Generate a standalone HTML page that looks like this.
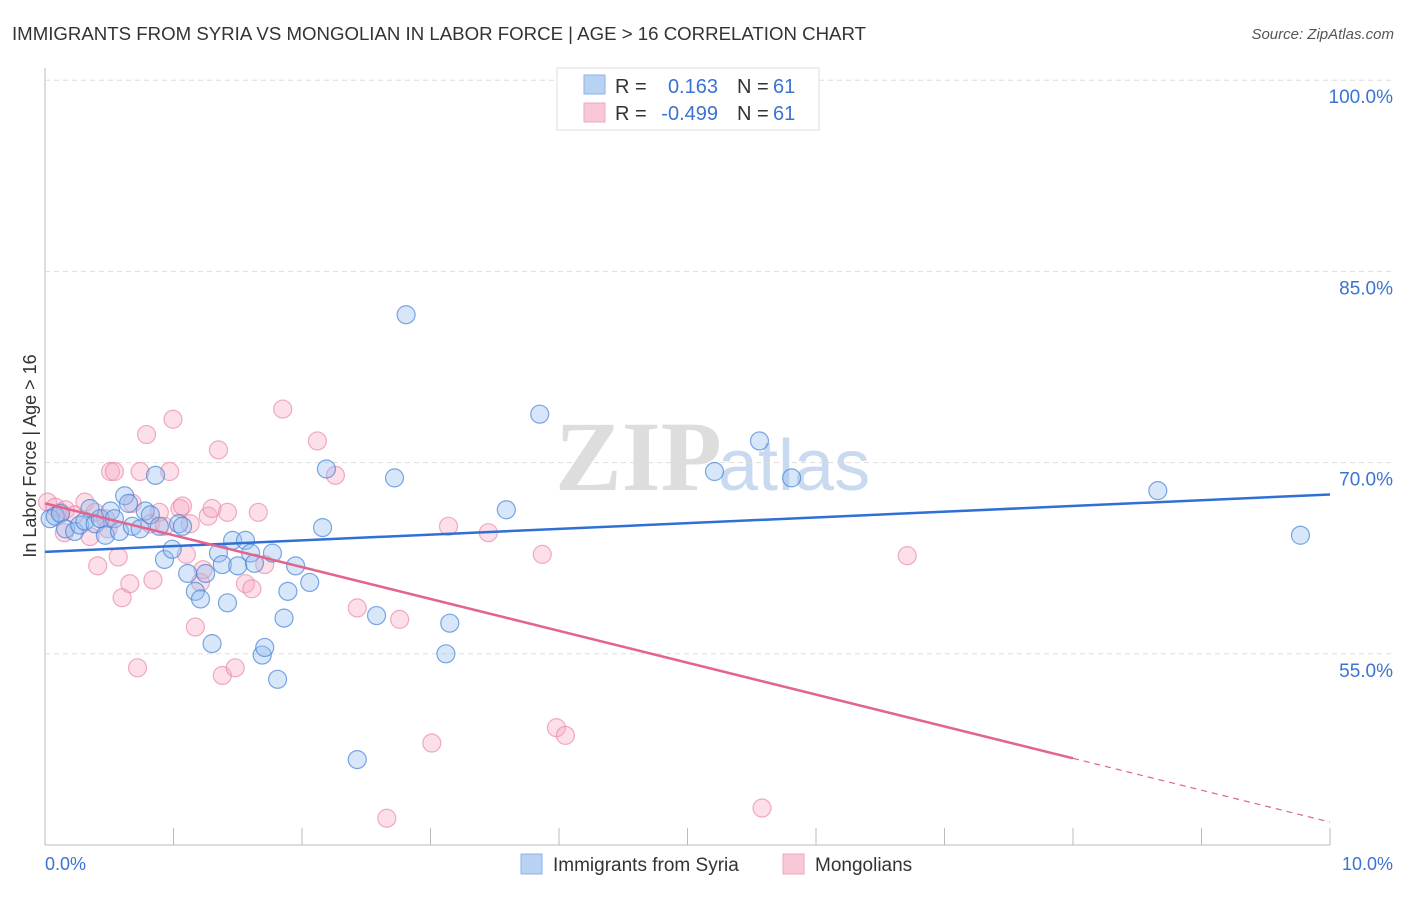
<!DOCTYPE html>
<html><head><meta charset="utf-8"><style>
body{margin:0;background:#fff;font-family:"Liberation Sans",sans-serif;}
svg text{font-family:"Liberation Sans",sans-serif;}
</style></head><body>
<svg id="c" width="1406" height="892" xmlns="http://www.w3.org/2000/svg">
<text x="12" y="40" font-size="18" fill="#333" textLength="854" lengthAdjust="spacingAndGlyphs">IMMIGRANTS FROM SYRIA VS MONGOLIAN IN LABOR FORCE | AGE &gt; 16 CORRELATION CHART</text>
<text x="1394" y="39" font-size="15" fill="#555" font-style="italic" text-anchor="end">Source: ZipAtlas.com</text>
<text x="36" y="456" font-size="18" fill="#333" text-anchor="middle" transform="rotate(-90 36 456)">In Labor Force | Age &gt; 16</text>
<text x="555" y="490" font-size="100" fill="#ddd" style="font-family:'Liberation Serif',serif;font-weight:bold">ZIP</text>
<text x="718" y="490" font-size="72" fill="#c9daf0">atlas</text>
<g id="grid"></g><g id="pts"></g><g id="lines"></g>
<g>
<rect x="557" y="68" width="262" height="62" fill="#fff" stroke="#ddd"/>
<rect x="584" y="75" width="21" height="19" fill="#b8d2f4" stroke="#8fb3e6"/>
<rect x="584" y="103" width="21" height="19" fill="#f9c8d6" stroke="#eda8bd"/>
<text x="615" y="93" font-size="20" fill="#333">R =</text><text x="718" y="93" font-size="20" fill="#3b73d1" text-anchor="end">0.163</text>
<text x="737" y="93" font-size="20" fill="#333">N =</text><text x="773" y="93" font-size="20" fill="#3b73d1">61</text>
<text x="615" y="120" font-size="20" fill="#333">R =</text><text x="718" y="120" font-size="20" fill="#3b73d1" text-anchor="end">-0.499</text>
<text x="737" y="120" font-size="20" fill="#333">N =</text><text x="773" y="120" font-size="20" fill="#3b73d1">61</text>
</g>
<g>
<rect x="521" y="854" width="21" height="20" fill="#b8d2f4" stroke="#8fb3e6"/>
<text x="553" y="871" font-size="19" fill="#333">Immigrants from Syria</text>
<rect x="783" y="854" width="21" height="20" fill="#f9c8d6" stroke="#eda8bd"/>
<text x="815" y="871" font-size="19" fill="#333">Mongolians</text>
</g>
<text x="45" y="870" font-size="18" fill="#3b73d1">0.0%</text>
<text x="1393" y="870" font-size="18" fill="#3b73d1" text-anchor="end">10.0%</text>
</svg>
<script>
const yTicks=[100,85,70,55];
const blueX=[0.04,0.08,0.12,0.16,0.23,0.27,0.31,0.35,0.39,0.43,0.47,0.51,0.54,0.58,0.62,0.65,0.68,0.74,0.78,0.82,0.86,0.89,0.93,0.99,1.04,1.07,1.11,1.17,1.21,1.25,1.3,1.35,1.38,1.42,1.46,1.5,1.56,1.6,1.63,1.69,1.71,1.77,1.81,1.86,1.89,1.95,2.06,2.16,2.19,2.58,2.72,2.81,3.12,3.15,2.43,3.59,3.85,5.21,5.56,5.81,8.66,9.77];
const blueY=[65.6,65.8,66.0,64.8,64.6,65.1,65.4,66.4,65.2,65.6,64.3,66.2,65.6,64.6,67.4,66.8,65.0,64.8,66.2,65.9,69.0,65.0,62.4,63.2,65.2,65.0,61.3,59.9,59.3,61.3,55.8,62.9,62.0,59.0,63.9,61.9,63.9,62.9,62.1,54.9,55.5,62.9,53.0,57.8,59.9,61.9,60.6,64.9,69.5,58.0,68.8,81.6,55.0,57.4,46.7,66.3,73.8,69.3,71.7,68.8,67.8,64.3];
const pinkX=[0.02,0.08,0.12,0.16,0.23,0.31,0.35,0.39,0.41,0.47,0.51,0.54,0.57,0.6,0.66,0.68,0.72,0.74,0.79,0.82,0.84,0.89,0.93,0.97,0.996,1.05,1.07,1.1,1.13,1.17,1.21,1.23,1.27,1.3,1.35,1.38,1.42,1.48,1.56,1.61,1.66,1.71,1.85,2.12,2.26,2.43,2.66,2.76,3.01,3.14,3.45,3.87,3.98,4.05,5.58,6.71,0.15,0.49];
const pinkY=[66.9,66.5,66.1,66.3,65.9,66.9,64.2,66.1,61.9,65.6,69.3,69.3,62.6,59.4,60.5,66.8,53.9,69.3,72.2,65.2,60.8,66.1,65.0,69.3,73.4,66.4,66.6,62.8,65.2,57.1,60.6,61.6,65.8,66.4,71.0,53.3,66.1,53.9,60.5,60.1,66.1,62.0,74.2,71.7,69.0,58.6,42.1,57.7,48.0,65.0,64.5,62.8,49.2,48.6,42.9,62.7,64.5,64.8];
const blueLine=[63.0,67.5];
const pinkLine=[66.8,41.8];
const solidEnd=8.0;
const X=v=>45+v/10*1285, Y=v=>845-(v-40)/15*191.2;
const NS='http://www.w3.org/2000/svg';
function mk(t,a,p){const e=document.createElementNS(NS,t);for(const k in a)e.setAttribute(k,a[k]);document.getElementById(p).appendChild(e);return e;}
mk('line',{x1:45,y1:68,x2:45,y2:845,stroke:'#bbb'},'grid');
mk('line',{x1:45,y1:845,x2:1330,y2:845,stroke:'#bbb'},'grid');
for(let i=1;i<=10;i++){const l=mk('line',{x1:X(i),y1:828,x2:X(i),y2:845,stroke:'#bbb'},'grid');

}
yTicks.forEach(t=>{const g=mk('line',{x1:45,y1:Y(t),x2:1392,y2:Y(t),stroke:'#ddd','stroke-dasharray':'5,4'},'grid');


const tx=mk('text',{x:1393,y:Y(t)+23,'font-size':19,fill:'#3b73d1','text-anchor':'end'},'grid');tx.textContent=t.toFixed(1)+'%';

});
pinkX.forEach((v,i)=>{const c=mk('circle',{cx:X(v),cy:Y(pinkY[i]),r:9,fill:'rgba(246,170,195,0.38)',stroke:'rgba(232,130,165,0.65)','stroke-width':1.2},'pts');

});
blueX.forEach((v,i)=>{const c=mk('circle',{cx:X(v),cy:Y(blueY[i]),r:9,fill:'rgba(150,190,240,0.38)',stroke:'rgba(70,130,215,0.7)','stroke-width':1.2},'pts');

});
const bl=mk('line',{x1:X(0),y1:Y(blueLine[0]),x2:X(10),y2:Y(blueLine[1]),stroke:'#2f6fd6','stroke-width':2.5},'lines');


const pv=x=>pinkLine[0]+(pinkLine[1]-pinkLine[0])*x/10;
const pl=mk('line',{x1:X(0),y1:Y(pv(0)),x2:X(solidEnd),y2:Y(pv(solidEnd)),stroke:'#e2648f','stroke-width':2.5},'lines');


const pd=mk('line',{x1:X(solidEnd),y1:Y(pv(solidEnd)),x2:X(10),y2:Y(pv(10)),stroke:'#e2648f','stroke-width':1.2,'stroke-dasharray':'6,5'},'lines');


</script>
</body></html>
